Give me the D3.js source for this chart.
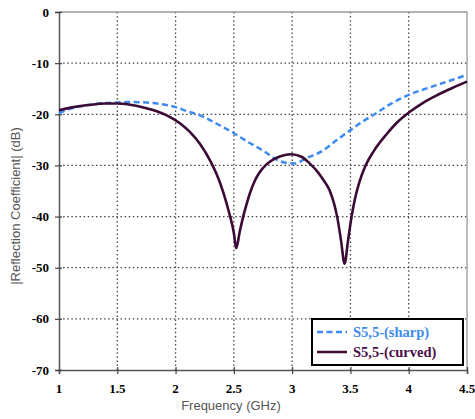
<!DOCTYPE html>
<html>
<head>
<meta charset="utf-8">
<script src="https://cdn.jsdelivr.net/npm/d3@7"></script>
<style>
  html, body { margin: 0; padding: 0; background: #fff; }
  .title { font-family: "Liberation Sans", Arial, sans-serif; font-size: 13px; fill: #555; }
  .legend-text { font-family: "Liberation Serif", "Times New Roman", serif; font-weight: bold; font-size: 14.5px; }
  .tick-label { font-family: "Liberation Serif", "Times New Roman", serif; font-weight: bold; font-size: 13px; fill: #000; }
</style>
</head>
<body>
<div id="graph"></div>
<script>
const SIZE = Object.freeze({ WIDTH: 475, HEIGHT: 419 }),
      MARGIN = Object.freeze({ TOP: 12, RIGHT: 8, BOTTOM: 49, LEFT: 59 })

const xTicks = [1, 1.5, 2, 2.5, 3, 3.5, 4, 4.5]
const yTicks = [0, -10, -20, -30, -40, -50, -60, -70]

// S5,5 sharp (dashed blue)
const sharpFreq = [1.0, 1.1, 1.25, 1.4, 1.5, 1.6, 1.75, 1.9, 2.0, 2.1, 2.21, 2.35, 2.5, 2.62, 2.75, 2.87, 2.95, 3.02, 3.12, 3.27, 3.38, 3.5, 3.6, 3.72, 3.85, 4.0, 4.12, 4.24, 4.37, 4.5]
const sharpDb = [-19.8, -18.9, -18.2, -17.8, -17.7, -17.6, -17.7, -18.1, -18.6, -19.4, -20.2, -21.8, -23.7, -25.4, -27.1, -28.9, -29.5, -29.6, -28.6, -27.0, -25.1, -23.1, -21.5, -19.8, -17.9, -16.2, -15.2, -14.3, -13.3, -12.3]

// S5,5 curved (solid purple)
const curvedFreq = [1.0, 1.1, 1.25, 1.4, 1.5, 1.6, 1.75, 1.85, 1.95, 2.04, 2.12, 2.21, 2.3, 2.35, 2.41, 2.46, 2.5, 2.52, 2.55, 2.58, 2.61, 2.64, 2.68, 2.72, 2.78, 2.84, 2.9, 2.99, 3.08, 3.15, 3.22, 3.27, 3.32, 3.36, 3.39, 3.42, 3.45, 3.48, 3.51, 3.54, 3.58, 3.63, 3.7, 3.81, 3.9, 4.01, 4.12, 4.24, 4.37, 4.5]
const curvedDb = [-19.2, -18.7, -18.2, -17.9, -17.9, -18.1, -18.8, -19.5, -20.5, -21.8, -23.4, -25.8, -29.2, -31.6, -35.3, -39.3, -43.2, -46.2, -43.0, -40.0, -37.5, -35.3, -33.0, -31.4, -29.8, -28.8, -28.2, -27.8, -28.3, -29.6, -31.3, -32.9, -34.8, -37.5, -40.5, -44.8, -49.2, -44.6, -40.0, -36.4, -33.0, -30.0, -27.2, -23.9, -21.6, -19.5, -17.8, -16.3, -14.9, -13.6]

const legendKeys = [
  { title: 'S5,5-(sharp)', color: '#3d8bf0', text: '#3d8bf0', dash: '6,3.5' },
  { title: 'S5,5-(curved)', color: '#3b0a35', text: '#4b1048', dash: null }
]

const zip = (xs, ys) => xs.map((x, i) => ({ f: x, db: ys[i] }))

const styleAxis = (g) => {
  g.select('.domain').attr('stroke', '#555').attr('stroke-width', 1.5)
  g.selectAll('.tick line').attr('stroke', '#444').attr('stroke-width', 1.2)
}

const buildGraph = () => {
  const xScale = d3.scaleLinear().domain([1, 4.5]).range([MARGIN.LEFT, SIZE.WIDTH - MARGIN.RIGHT]),
        yScale = d3.scaleLinear().domain([-70, 0]).range([SIZE.HEIGHT - MARGIN.BOTTOM, MARGIN.TOP])

  const svg = d3.select('#graph')
    .append('svg')
    .attr('width', SIZE.WIDTH)
    .attr('height', SIZE.HEIGHT)

  // grid
  const grid = svg.append('g')
    .attr('stroke', '#444')
    .attr('stroke-width', 1.3)
    .attr('stroke-dasharray', '1.5,2.6')
  grid.selectAll('.vg')
    .data(xTicks.slice(1, -1))
    .enter()
    .append('line')
    .attr('x1', d => xScale(d)).attr('x2', d => xScale(d))
    .attr('y1', yScale(0)).attr('y2', yScale(-70))
  grid.selectAll('.hg')
    .data(yTicks.slice(1, -1))
    .enter()
    .append('line')
    .attr('y1', d => yScale(d)).attr('y2', d => yScale(d))
    .attr('x1', xScale(1)).attr('x2', xScale(4.5))

  // frame top / right
  svg.append('path')
    .attr('d', `M${xScale(1)},${yScale(0)}H${xScale(4.5)}V${yScale(-70)}`)
    .attr('fill', 'none')
    .attr('stroke', '#999')
    .attr('stroke-width', 1.3)

  const xAxis = d3.axisBottom(xScale).tickValues(xTicks).tickFormat(() => '').tickSizeOuter(0).tickSize(4),
        yAxis = d3.axisLeft(yScale).tickValues(yTicks).tickFormat(() => '').tickSizeOuter(0).tickSize(4)

  const gx = svg.append('g')
    .attr('transform', `translate(0, ${SIZE.HEIGHT - MARGIN.BOTTOM})`)
    .call(xAxis)
    .call(styleAxis)
  gx.selectAll('.tick line').attr('y1', -3)

  const gy = svg.append('g')
    .attr('transform', `translate(${MARGIN.LEFT}, 0)`)
    .call(yAxis)
    .call(styleAxis)
  gy.selectAll('.tick line').attr('x1', 3)

  // tick labels (bold serif)
  svg.append('g')
    .selectAll('text')
    .data(xTicks)
    .enter()
    .append('text')
    .attr('class', 'tick-label')
    .attr('text-anchor', 'middle')
    .attr('x', d => xScale(d))
    .attr('y', SIZE.HEIGHT - MARGIN.BOTTOM + 23)
    .text(d => d)
  svg.append('g')
    .selectAll('text')
    .data(yTicks)
    .enter()
    .append('text')
    .attr('class', 'tick-label')
    .attr('text-anchor', 'end')
    .attr('x', MARGIN.LEFT - 10)
    .attr('y', d => yScale(d) + 4.5)
    .text(d => d)

  // titles
  svg.append('text')
    .attr('class', 'title')
    .attr('text-anchor', 'middle')
    .attr('x', 231)
    .attr('y', 410)
    .text('Frequency (GHz)')
  svg.append('text')
    .attr('class', 'title')
    .attr('text-anchor', 'middle')
    .attr('transform', 'translate(20, 206) rotate(-90)')
    .text('|Reflection Coefficient| (dB)')

  const line = d3.line()
    .x(d => xScale(d.f))
    .y(d => yScale(d.db))
    .curve(d3.curveMonotoneX)

  svg.append('path')
    .datum(zip(sharpFreq, sharpDb))
    .attr('fill', 'none')
    .attr('stroke', legendKeys[0].color)
    .attr('stroke-width', 2.5)
    .attr('stroke-dasharray', legendKeys[0].dash)
    .attr('d', line)

  svg.append('path')
    .datum(zip(curvedFreq, curvedDb))
    .attr('fill', 'none')
    .attr('stroke', legendKeys[1].color)
    .attr('stroke-width', 2.6)
    .attr('d', line)

  // legend
  const legend = svg.append('g')
    .attr('transform', 'translate(312, 319)')
  legend.append('rect')
    .attr('width', 151)
    .attr('height', 46)
    .attr('fill', '#fff')
    .attr('stroke', '#000')
    .attr('stroke-width', 2)
  legend.selectAll('line')
    .data(legendKeys)
    .enter()
    .append('line')
    .attr('x1', 5).attr('x2', 35)
    .attr('y1', (d, i) => 13 + 20 * i).attr('y2', (d, i) => 13 + 20 * i)
    .attr('stroke', d => d.color)
    .attr('stroke-width', 2.5)
    .attr('stroke-dasharray', d => d.dash)
  legend.selectAll('text')
    .data(legendKeys)
    .enter()
    .append('text')
    .attr('class', 'legend-text')
    .attr('x', 41)
    .attr('y', (d, i) => 18 + 20 * i)
    .attr('fill', d => d.text)
    .text(d => d.title)
}

buildGraph()
</script>
</body>
</html>
